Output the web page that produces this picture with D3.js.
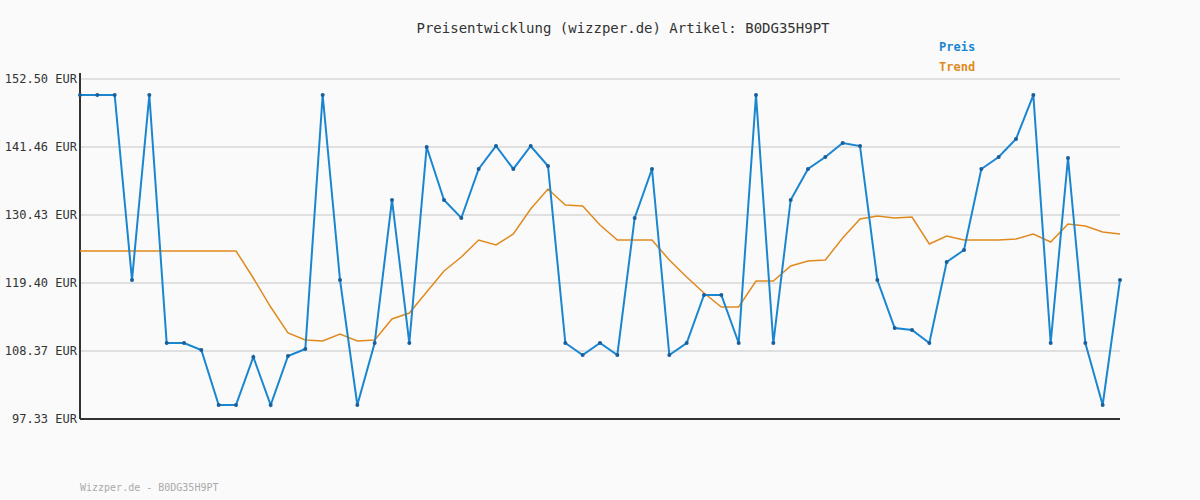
<!DOCTYPE html>
<html><head><meta charset="utf-8">
<script src="https://cdn.jsdelivr.net/npm/d3@7"></script>
<style>body{margin:0;background:#fafafa}text{font-family:"DejaVu Sans Mono",monospace}</style>
</head><body><svg></svg>
<script>
const width = 1200, height = 500;
const margin = {left: 80, right: 80, top: 79, bottom: 81};
const yTicks = [97.33, 108.37, 119.40, 130.43, 141.46, 152.50];
const preis = [149.90,149.90,149.90,119.89,149.90,109.66,109.66,108.53,99.60,99.60,
  107.39,99.60,107.55,108.69,149.90,119.89,99.60,109.66,132.87,109.66,
  141.47,132.87,129.95,137.90,141.63,137.90,141.63,138.38,109.66,107.72,
  109.66,107.72,129.95,137.90,107.72,109.66,117.45,117.45,109.66,149.90,
  109.66,132.87,137.90,139.84,142.12,141.63,119.89,112.10,111.77,109.66,
  122.81,124.75,137.90,139.84,142.76,149.90,109.66,139.68,109.66,99.60,119.89];
const trend = [124.59,124.59,124.59,124.59,124.59,124.59,124.59,124.59,124.59,124.59,
  120.21,115.50,111.29,110.15,109.99,111.13,109.99,110.15,113.56,114.53,
  117.94,121.35,123.62,126.38,125.57,127.35,131.41,134.65,132.06,131.89,
  128.81,126.38,126.38,126.38,123.13,120.37,117.78,115.50,115.50,119.72,
  119.72,122.16,122.97,123.13,126.70,129.78,130.27,129.95,130.11,125.73,
  127.03,126.38,126.38,126.38,126.54,127.35,126.05,128.97,128.65,127.67,127.35];

const svg = d3.select("svg").attr("width", width).attr("height", height);
svg.append("rect").attr("width", width).attr("height", height).attr("fill", "#fafafa");

const x = d3.scaleLinear().domain([0, preis.length - 1]).range([margin.left, width - margin.right]);
const y = d3.scaleLinear().domain([97.33, 152.50]).range([height - margin.bottom, margin.top]);

// grid lines
svg.append("g").selectAll("line").data(yTicks).enter().append("line")
  .attr("x1", margin.left).attr("x2", width - margin.right)
  .attr("y1", d => y(d)).attr("y2", d => y(d))
  .attr("stroke", "#e0e0e0").attr("stroke-width", 2);

svg.append("g").selectAll("text").data(yTicks).enter().append("text")
  .attr("x", 77).attr("y", d => y(d) + 4).attr("text-anchor", "end")
  .attr("font-size", 12).attr("fill", "#333").text(d => d.toFixed(2) + " EUR");

// axes
svg.append("line").attr("x1", margin.left).attr("x2", margin.left)
  .attr("y1", margin.top - 6).attr("y2", height - margin.bottom).attr("stroke", "#333").attr("stroke-width", 2);
svg.append("line").attr("x1", margin.left).attr("x2", width - margin.right)
  .attr("y1", height - margin.bottom).attr("y2", height - margin.bottom).attr("stroke", "#333").attr("stroke-width", 2);

const line = d3.line().x((d, i) => x(i)).y(d => y(d));
svg.append("path").datum(trend).attr("d", line).attr("fill", "none")
  .attr("stroke", "#e08a1e").attr("stroke-width", 1.5);
svg.append("path").datum(preis).attr("d", line).attr("fill", "none")
  .attr("stroke", "#1a86d0").attr("stroke-width", 2);
svg.append("g").selectAll("circle").data(preis).enter().append("circle")
  .attr("cx", (d, i) => x(i)).attr("cy", d => y(d)).attr("r", 2).attr("fill", "#1a5f9a");

svg.append("text").attr("x", 623).attr("y", 33).attr("text-anchor", "middle")
  .attr("font-size", 14).attr("fill", "#333").text("Preisentwicklung (wizzper.de) Artikel: B0DG35H9PT");
svg.append("text").attr("x", 939).attr("y", 51).attr("font-size", 12).attr("font-weight", "bold")
  .attr("fill", "#1a86d0").text("Preis");
svg.append("text").attr("x", 939).attr("y", 71).attr("font-size", 12).attr("font-weight", "bold")
  .attr("fill", "#e08a1e").text("Trend");
svg.append("text").attr("x", 80).attr("y", 491).attr("font-size", 10).attr("fill", "#aaa")
  .text("Wizzper.de - B0DG35H9PT");
</script></body></html>
